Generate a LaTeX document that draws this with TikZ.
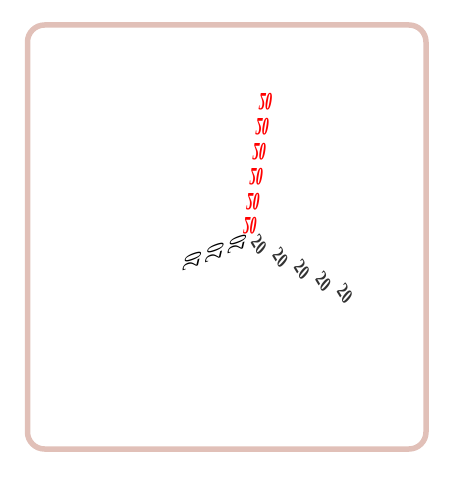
\documentclass[tikz,border=0pt]{standalone}
\usepackage{fontspec}
\setmainfont{Liberation Serif}
\definecolor{framebrown}{RGB}{225,192,184}
\definecolor{darkdigit}{RGB}{50,50,50}
\tikzset{
  digit/.style={inner sep=0pt, font=\fontsize{10}{12}\selectfont},
  bolddigit/.style={digit, font=\fontsize{10}{12}\selectfont\bfseries}
}
\begin{document}
\begin{tikzpicture}[x=1pt,y=1pt]
  \useasboundingbox (0,0) rectangle (459,-492);
  \draw[framebrown, line width=5.5pt, rounded corners=17pt]
        (27.5,-25) rectangle (426,-449);
  % upright branch, flipped
  \foreach \i in {0,...,5} {
    \node[bolddigit, red, cm={1.3,0,-0.4,-2.5,(0,0)}] (up\i)
          at (250 + 3.1 * \i, -226 + 24.8 * \i) {20};
  }
  % branch to the lower right
  \foreach \i in {0,...,4} {
    \node[bolddigit, darkdigit, cm={0.85,-1.4,1.3,1.5,(0,0)}] (right\i)
          at (259 + 21.5 * \i, -245 - 12.2 * \i) {20};
  }
  % short branch to the left
  \foreach \i in {0,...,2} {
    \node[digit, black, cm={0.4,1.7,-2.4,-0.85,(0,0)}] (left\i)
          at (237 - 22.5 * \i, -244 - 8.5 * \i) {20};
  }
\end{tikzpicture}
\end{document}
